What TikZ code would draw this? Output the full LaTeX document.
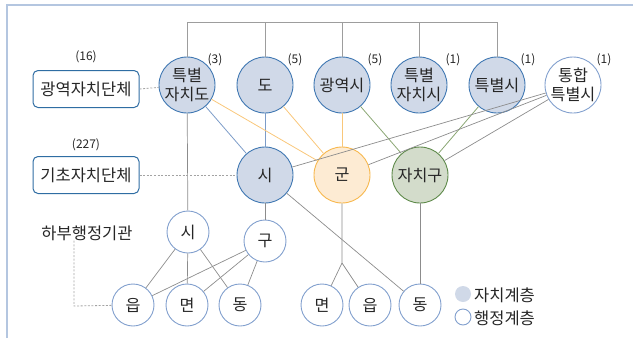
\documentclass[tikz,border=0pt]{standalone}
\usepackage{fontspec}
\setmainfont{Noto Sans CJK KR}
\definecolor{frameblue}{HTML}{B4C6E0}
\definecolor{autofill}{HTML}{D0D9E8}
\definecolor{autoline}{HTML}{3F77B2}
\definecolor{gunfill}{HTML}{FDEBD3}
\definecolor{gunline}{HTML}{F7B84E}
\definecolor{gufill}{HTML}{D3DCCB}
\definecolor{guline}{HTML}{5E8A4A}
\definecolor{adminline}{HTML}{82A0CE}
\definecolor{boxline}{HTML}{2F6DA3}
\definecolor{txt}{HTML}{262626}
\definecolor{conn}{HTML}{8C8C8C}
\definecolor{bluecon}{HTML}{7C9CC8}
\definecolor{orcon}{HTML}{F9C77A}
\definecolor{grcon}{HTML}{8AA673}
\begin{document}
\begin{tikzpicture}[x=1pt,y=-1pt,
  every node/.style={text=txt, font=\fontsize{16.2}{19}\selectfont, align=center, inner sep=0pt},
  bigc/.style={circle, minimum size=56pt, line width=0.9pt},
  autoc/.style={bigc, fill=autofill, draw=autoline},
  gunc/.style={bigc, fill=gunfill, draw=gunline},
  guc/.style={bigc, fill=gufill, draw=guline},
  admc/.style={circle, minimum size=42pt, line width=0.9pt, fill=white, draw=adminline},
  admbig/.style={bigc, fill=white, draw=adminline},
  boxc/.style={rectangle, rounded corners=5pt, draw=boxline, line width=1pt, minimum width=106pt, minimum height=37pt, font=\fontsize{16.5}{19}\selectfont},
  cnt/.style={font=\fontsize{12}{14}\selectfont},
  gl/.style={draw=conn, line width=0.7pt},
  topl/.style={draw=conn!85, line width=0.9pt},
  bl/.style={draw=bluecon, line width=0.8pt},
  ol/.style={draw=orcon, line width=0.8pt},
  grl/.style={draw=grcon, line width=0.8pt},
  dl/.style={draw=conn!80, line width=0.8pt, dash pattern=on 2pt off 1.6pt}
]
\useasboundingbox (0,0) rectangle (633,338);
% frame
\draw[frameblue, line width=1.8pt] (7,338) -- (7,5) -- (633,5);

% top row
\node[autoc] (n1) at (187,85) {특별\\자치도};
\node[autoc] (n2) at (265,85) {도};
\node[autoc] (n3) at (342,85) {광역시};
\node[autoc] (n4) at (419,85) {특별\\자치시};
\node[autoc] (n5) at (497,85) {특별시};
\node[admbig] (n6) at (573,85) {통합\\특별시};
\node[cnt] (c1) at (215,60) {(3)};
\node[cnt] (c2) at (295,60) {(5)};
\node[cnt] (c3) at (375,60) {(5)};
\node[cnt] (c4) at (453,60) {(1)};
\node[cnt] (c5) at (528,60) {(1)};
\node[cnt] (c6) at (604,60) {(1)};

% middle row
\node[autoc] (si) at (265,175) {시};
\node[gunc] (gun) at (342,175) {군};
\node[guc] (gu) at (420,175) {자치구};

% boxes
\node[boxc] (b1) at (86,89) {광역자치단체};
\node[boxc] (b2) at (86,175) {기초자치단체};
\node[cnt] (c16) at (86,57) {(16)};
\node[cnt] (c227) at (86,145) {(227)};

% third row
\node[admc] (s1) at (188,232) {시};
\node[admc] (k1) at (265,241) {구};
\node[font=\fontsize{16.5}{19}\selectfont] (hb) at (87,233) {하부행정기관};

% bottom row
\node[admc] (u1) at (133,305) {읍};
\node[admc] (m1) at (187,305) {면};
\node[admc] (d1) at (240,305) {동};
\node[admc] (m2) at (322,305) {면};
\node[admc] (u2) at (370,305) {읍};
\node[admc] (d2) at (420,305) {동};

% legend
\node[circle, fill=autofill, minimum size=16pt] (lg1) at (463,294) {};
\node[circle, draw=adminline, line width=0.9pt, fill=white, minimum size=16pt] (lg2) at (463,317) {};
\node[anchor=west, font=\fontsize{16.5}{19}\selectfont] (lt1) at (474,295) {자치계층};
\node[anchor=west, font=\fontsize{16.5}{19}\selectfont] (lt2) at (474,318) {행정계층};

% top bracket
\coordinate (top) at (0,22);
\draw[topl] (n1) -- (n1|-top) -- (n5|-top) -- (n5);
\draw[topl] (n2) -- (n2|-top);
\draw[topl] (n3) -- (n3|-top);
\draw[topl] (n4) -- (n4|-top);

% hierarchy connectors
\draw[bl] (n1) -- (si);
\draw[bl] (n2) -- (si);
\draw[ol] (n1) -- (gun);
\draw[ol] (n2) -- (gun);
\draw[ol] (n3) -- (gun);
\draw[grl] (n3) -- (gu);
\draw[grl] (n5) -- (gu);
\draw[gl] (n6) -- (si);
\draw[gl] (n6) -- (gun);
\draw[gl] (n6) -- (gu);
\draw[gl] (n1) -- (s1);
\draw[gl] (si) -- (k1);
\draw[gl] (si) -- (d2);
\coordinate (gb) at (342,263);
\draw[gl] (gun) -- (gb) -- (m2);
\draw[gl] (gb) -- (u2);
\draw[gl] (gu) -- (d2);
\draw[gl] (s1) -- (u1);
\draw[gl] (s1) -- (m1);
\draw[gl] (s1) -- (d1);
\draw[gl] (k1) -- (u1);
\draw[gl] (k1) -- (m1);
\draw[gl] (k1) -- (d1);

% dashed guides
\draw[dl] (b1.east) -- (n1);
\draw[dl] (b2.east) -- (si);
\coordinate (hd) at (74,306);
\draw[dl] (hb.south -| hd) -- (hd) -- (u1);
\end{tikzpicture}
\end{document}
